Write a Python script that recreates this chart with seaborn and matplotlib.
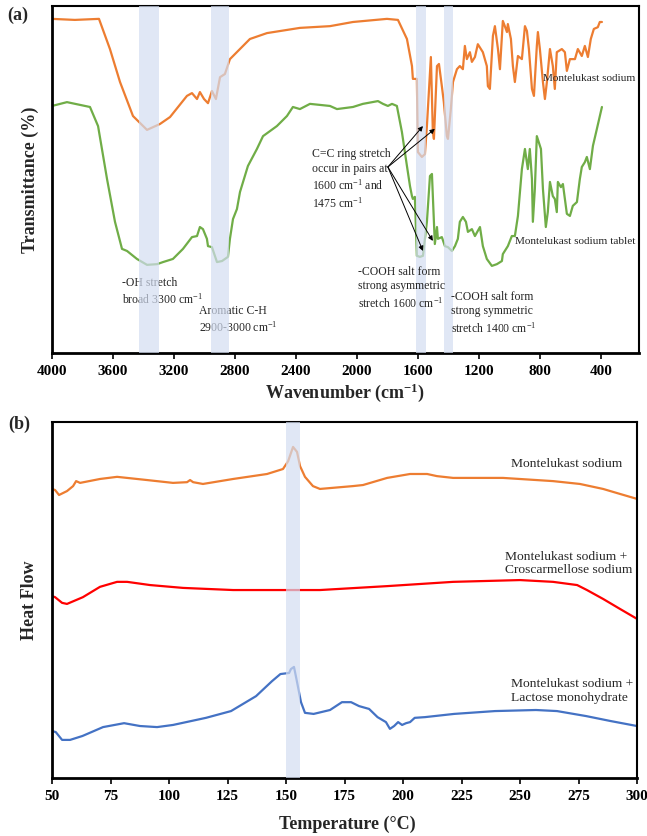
import matplotlib
matplotlib.use("Agg")
import matplotlib.pyplot as plt
import pandas as pd
import seaborn as sns

# ---------------- data: FTIR (panel a) ----------------
ftir_ticks = [4000, 3600, 3200, 2800, 2400, 2000, 1600, 1200, 800, 400]

# (wavenumber, transmittance in arbitrary %)
ms_ftir = [(4000, 96.3), (3850, 96.0), (3692, 96.3), (3620, 87.6), (3554, 78.1), (3469, 68.3),
           (3377, 64.3), (3292, 66.0), (3226, 68.0), (3115, 74.1), (3082, 74.9), (3049, 73.2),
           (3030, 75.2), (3003, 73.2), (2977, 72.0), (2951, 75.5), (2925, 73.2), (2898, 79.5),
           (2866, 80.4), (2833, 84.7), (2702, 90.5), (2590, 92.2), (2374, 93.7), (2177, 94.2),
           (2026, 95.4), (1803, 96.3), (1731, 96.0), (1672, 90.5), (1639, 82.7), (1633, 79.0),
           (1607, 79.0), (1600, 57.9), (1574, 56.5), (1554, 57.3), (1541, 65.4), (1515, 85.3),
           (1502, 63.7), (1495, 61.7), (1475, 82.7), (1462, 83.3), (1443, 76.9), (1430, 72.3),
           (1410, 62.5), (1403, 61.7), (1384, 70.3), (1370, 78.1), (1344, 81.8), (1325, 82.7),
           (1305, 81.8), (1292, 88.5), (1279, 84.7), (1259, 86.7), (1246, 83.9), (1226, 85.3),
           (1207, 89.0), (1174, 86.7), (1148, 82.7), (1141, 76.9), (1128, 76.1), (1108, 91.4),
           (1095, 94.2), (1075, 87.6), (1062, 81.8), (1043, 95.7), (1030, 94.2), (1016, 92.5),
           (1010, 94.8), (990, 90.5), (977, 82.7), (964, 78.1), (944, 85.6), (918, 84.7),
           (898, 94.2), (885, 92.8), (872, 87.6), (852, 76.1), (839, 74.1), (820, 88.5),
           (813, 92.5), (800, 87.6), (780, 78.1), (767, 73.2), (754, 78.1), (734, 87.6),
           (715, 82.7), (702, 76.1), (689, 86.7), (656, 87.6), (636, 86.7), (623, 81.3),
           (603, 84.7), (570, 84.7), (551, 87.6), (525, 85.6), (505, 88.5), (485, 85.3),
           (466, 90.5), (446, 93.4), (420, 93.9), (407, 95.4), (393, 95.4)]

tab_ftir = [(4000, 71.2), (3902, 72.3), (3751, 70.9), (3698, 65.4), (3639, 50.1), (3587, 37.8),
            (3541, 30.0), (3508, 29.4), (3443, 27.1), (3377, 25.4), (3311, 25.6), (3272, 26.2),
            (3207, 27.1), (3141, 30.0), (3082, 33.4), (3049, 33.7), (3030, 36.3), (3010, 35.7),
            (2984, 32.9), (2977, 30.8), (2951, 30.5), (2918, 26.2), (2885, 26.5), (2846, 27.7),
            (2833, 32.9), (2813, 38.6), (2787, 41.5), (2767, 46.4), (2715, 53.9), (2656, 58.8),
            (2616, 62.5), (2525, 65.4), (2459, 68.3), (2420, 70.9), (2374, 70.3), (2308, 71.8),
            (2177, 71.2), (2131, 70.3), (2026, 70.9), (1961, 71.8), (1862, 72.6), (1829, 71.8),
            (1797, 71.2), (1770, 71.8), (1738, 71.2), (1705, 63.7), (1672, 53.9), (1652, 48.1),
            (1639, 45.2), (1633, 44.4), (1620, 45.0), (1607, 28.0), (1587, 27.7), (1567, 28.0),
            (1541, 37.8), (1521, 51.0), (1508, 51.6), (1502, 45.2), (1489, 31.4), (1475, 36.3),
            (1469, 32.9), (1443, 33.4), (1423, 30.8), (1403, 30.5), (1377, 29.4), (1357, 30.8),
            (1338, 32.9), (1325, 37.8), (1305, 39.2), (1285, 37.8), (1272, 34.9), (1246, 35.7),
            (1226, 33.7), (1193, 36.3), (1174, 30.8), (1148, 27.1), (1115, 25.1), (1082, 25.6),
            (1049, 26.5), (1043, 28.5), (1010, 30.8), (984, 33.7), (964, 33.7), (944, 39.5),
            (918, 53.0), (898, 58.8), (879, 53.0), (866, 58.8), (852, 50.1), (846, 37.8),
            (833, 47.3), (820, 62.5), (793, 58.8), (780, 47.3), (761, 36.3), (748, 40.6),
            (734, 49.3), (715, 45.2), (702, 44.4), (689, 40.6), (682, 49.3), (662, 47.8),
            (649, 48.7), (623, 40.1), (603, 39.5), (584, 42.4), (557, 43.5), (538, 50.1),
            (525, 53.6), (505, 55.0), (492, 56.5), (472, 53.0), (452, 59.7), (426, 64.6),
            (393, 70.9)]

ftir_bands = [(3430, 3298), (2957, 2839), (1613, 1548), (1430, 1370)]

# ---------------- data: DSC (panel b) ----------------
dsc_ticks = [50, 75, 100, 125, 150, 175, 200, 225, 250, 275, 300]

ms_dsc = [(50.0, 81.2), (51.3, 80.9), (53.0, 79.5), (56.4, 80.6), (59.0, 82.0), (60.3, 83.4),
          (62.0, 82.9), (70.5, 84.0), (77.8, 84.6), (90.6, 83.7), (101.7, 82.9), (107.7, 83.1),
          (109.0, 83.7), (110.3, 83.1), (114.5, 82.6), (127.4, 84.0), (141.9, 85.4), (148.7, 86.8),
          (150.9, 89.0), (153.0, 93.0), (154.7, 91.6), (156.0, 87.6), (158.1, 84.6), (161.5, 82.0),
          (164.5, 81.2), (178.6, 82.0), (182.9, 82.3), (193.2, 84.3), (203.0, 85.4), (210.3, 85.4),
          (214.5, 84.8), (221.4, 84.3), (242.7, 84.3), (264.1, 83.4), (275.6, 82.6), (285.5, 81.2),
          (292.7, 79.8), (300.0, 78.4)]

ccs_dsc = [(50.0, 51.1), (51.3, 50.8), (54.3, 49.2), (56.4, 48.9), (63.2, 50.8), (70.5, 53.7),
           (77.8, 55.1), (82.1, 55.1), (91.9, 54.2), (106.0, 53.4), (127.4, 52.8), (148.7, 52.8),
           (164.5, 52.8), (193.2, 53.9), (221.4, 55.1), (250.0, 55.6), (264.1, 55.1), (274.4, 54.2),
           (278.6, 52.8), (285.5, 50.3), (292.7, 47.5), (300.0, 44.7)]

lac_dsc = [(50.0, 13.2), (51.6, 12.9), (54.3, 10.7), (57.7, 10.7), (63.0, 11.8), (71.8, 14.3),
           (80.8, 15.4), (87.6, 14.6), (94.9, 14.3), (101.7, 14.9), (115.8, 16.9), (126.5, 18.8),
           (137.2, 23.0), (144.0, 27.2), (147.6, 29.2), (151.3, 29.5), (152.1, 30.6), (153.4, 31.2),
           (154.7, 27.0), (156.4, 21.3), (158.1, 18.3), (161.8, 18.0), (168.8, 19.1), (173.9, 21.3),
           (177.8, 21.3), (181.2, 20.2), (185.5, 19.4), (189.1, 17.1), (192.7, 15.7), (194.4, 13.8),
           (196.2, 14.6), (197.9, 15.7), (199.6, 14.9), (201.3, 15.4), (203.0, 15.7), (205.0, 16.9),
           (209.4, 17.1), (221.8, 18.0), (239.3, 18.8), (256.8, 19.1), (265.8, 18.8), (278.2, 17.4),
           (288.7, 16.0), (300.0, 14.6)]

dsc_bands = [(150.0, 156.0)]

# ---------------- style ----------------
sns.set_theme(style="white")
plt.rcParams["font.family"] = ["Liberation Serif", "DejaVu Serif"]
plt.rcParams["mathtext.fontset"] = "custom"
plt.rcParams["mathtext.rm"] = "Liberation Serif"
plt.rcParams["mathtext.it"] = "Liberation Serif:italic"
plt.rcParams["mathtext.bf"] = "Liberation Serif:bold"
plt.rcParams["mathtext.default"] = "regular"

ORANGE = "#ed7d31"
GREEN = "#70ad47"
RED = "#ff0000"
BLUE = "#4472c4"
BAND = "#d3ddf1"

fig = plt.figure(figsize=(6.47, 8.37), dpi=100)
ax1 = fig.add_axes([0.0804, 0.5771, 0.9072, 0.4145])
ax2 = fig.add_axes([0.0804, 0.0693, 0.9042, 0.4253])


def series_df(pairs):
    return pd.DataFrame(pairs, columns=["x", "y"])


def style_axes(ax, ticks):
    for side in ["top", "right", "left", "bottom"]:
        ax.spines[side].set_visible(True)
        ax.spines[side].set_color("black")
    ax.spines["left"].set_linewidth(2.0)
    ax.spines["bottom"].set_linewidth(2.0)
    ax.spines["top"].set_linewidth(1.5)
    ax.spines["right"].set_linewidth(1.5)
    ax.set_yticks([])
    ax.set_xticks(ticks)
    ax.set_xticklabels([str(t) for t in ticks], fontweight="bold")
    ax.tick_params(axis="x", bottom=True, direction="out", length=4, width=1.2,
                   color="black", labelsize=11, pad=4, labelcolor="black")
    ax.set_xlabel("")
    ax.set_ylabel("")
    ax.grid(False)


# ---------------- panel (a) ----------------
sns.lineplot(data=series_df(ms_ftir), x="x", y="y", ax=ax1, color=ORANGE, lw=1.6, estimator=None)
sns.lineplot(data=series_df(tab_ftir), x="x", y="y", ax=ax1, color=GREEN, lw=1.6, estimator=None)
for a, b in ftir_bands:
    ax1.axvspan(a, b, color=BAND, alpha=0.7, lw=0, zorder=5)
ax1.set_xlim(4000, 150)
ax1.set_ylim(0, 100)
style_axes(ax1, ftir_ticks)

tfs = 8.5
sfs = 8.1
ax1.text(780, 79.3, "Montelukast sodium", fontsize=sfs, ha="left", va="center", zorder=6)
ax1.text(964, 32.3, "Montelukast sodium tablet", fontsize=sfs, ha="left", va="center", zorder=6)
ax1.text(3541, 17.9, "-OH stretch\nbroad 3300 cm$^{-1}$", fontsize=tfs, ha="left", va="center",
         linespacing=1.3)
ax1.text(3036, 9.8, "Aromatic C-H\n2900-3000 cm$^{-1}$", fontsize=tfs, ha="left", va="center",
         linespacing=1.3)
ax1.text(2295, 50.3, "C=C ring stretch\noccur in pairs at\n1600 cm$^{-1}$ and\n1475 cm$^{-1}$",
         fontsize=tfs, ha="left", va="center", linespacing=1.3, zorder=6)
ax1.text(1993, 19.0, "-COOH salt form\nstrong asymmetric\nstretch 1600 cm$^{-1}$", fontsize=tfs,
         ha="left", va="center", linespacing=1.3, zorder=6)
ax1.text(1384, 11.8, "-COOH salt form\nstrong symmetric\nstretch 1400 cm$^{-1}$", fontsize=tfs,
         ha="left", va="center", linespacing=1.3, zorder=6)
src = (1797, 53.6)
for tgt in [(1567, 65.4), (1489, 64.6), (1567, 29.4), (1502, 32.3)]:
    ax1.annotate("", xy=tgt, xytext=src,
                 arrowprops=dict(arrowstyle="-|>", color="black", lw=0.7,
                                 mutation_scale=7, shrinkA=0, shrinkB=0), zorder=7)

# ---------------- panel (b) ----------------
sns.lineplot(data=series_df(ms_dsc), x="x", y="y", ax=ax2, color=ORANGE, lw=1.6, estimator=None)
sns.lineplot(data=series_df(ccs_dsc), x="x", y="y", ax=ax2, color=RED, lw=1.6, estimator=None)
sns.lineplot(data=series_df(lac_dsc), x="x", y="y", ax=ax2, color=BLUE, lw=1.6, estimator=None)
for a, b in dsc_bands:
    ax2.axvspan(a, b, color=BAND, alpha=0.7, lw=0, zorder=5)
ax2.set_xlim(50, 300)
ax2.set_ylim(0, 100)
style_axes(ax2, dsc_ticks)

bfs = 9.7
ax2.text(246.2, 88.5, "Montelukast sodium", fontsize=bfs, ha="left", va="center")
ax2.text(243.6, 60.5, "Montelukast sodium +\nCroscarmellose sodium", fontsize=bfs, ha="left",
         va="center", linespacing=1.15)
ax2.text(246.2, 24.7, "Montelukast sodium +\nLactose monohydrate", fontsize=bfs, ha="left",
         va="center", linespacing=1.15)

# ---------------- labels ----------------
W, H = 647.0, 837.0
fig.text(30 / W, 1 - 180 / H, "Transmittance (%)", rotation=90, ha="center", va="center",
         fontsize=13, fontweight="bold")
fig.text(345 / W, 1 - 393 / H, "Wavenumber (cm$^{-1}$)", ha="center", va="center",
         fontsize=13, fontweight="bold")
fig.text(30 / W, 1 - 600 / H, "Heat Flow", rotation=90, ha="center", va="center",
         fontsize=13, fontweight="bold")
fig.text(347 / W, 1 - 824 / H, "Temperature (\u00b0C)", ha="center", va="center",
         fontsize=13, fontweight="bold")
fig.text(18 / W, 1 - 15 / H, "(a)", ha="center", va="center", fontsize=13, fontweight="bold")
fig.text(19 / W, 1 - 424 / H, "(b)", ha="center", va="center", fontsize=13, fontweight="bold")

fig.savefig("out.png", dpi=100)
